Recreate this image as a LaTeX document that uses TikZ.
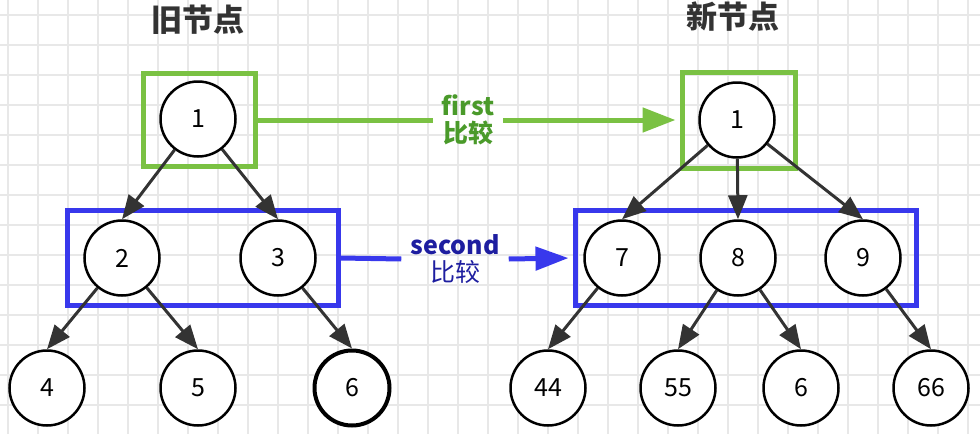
\documentclass[tikz,border=0pt]{standalone}
\usepackage{fontspec}
\setmainfont{Noto Sans CJK SC}
\usetikzlibrary{arrows.meta}
\definecolor{cmpgreen}{HTML}{7AC143}
\definecolor{txtgreen}{HTML}{4A9A2A}
\definecolor{cmpblue}{HTML}{3838EC}
\definecolor{txtblue}{HTML}{1E1EA0}
\definecolor{gridgray}{HTML}{E8E8E8}
\tikzset{
  tnode/.style={draw=black, shape=circle, fill=white, line width=2.5pt, minimum size=75pt, inner sep=0pt, font=\fontsize{25}{28}\selectfont},
  tedge/.style={draw=black!80, line width=3pt, -{Triangle[length=24pt,width=19pt]}},
  cmpbox/.style={draw=#1, line width=5pt, shape=rectangle, inner sep=0pt},
  cmpline/.style={draw=#1, line width=5pt},
  cmplabel/.style={text=#1, align=center, inner xsep=9pt, inner ysep=0pt, font=\fontsize{25}{27}\selectfont},
  treetitle/.style={text=black!80, font=\fontsize{31}{34}\selectfont\bfseries}
}
\begin{document}
\begin{tikzpicture}[x=1pt,y=-1pt]
\useasboundingbox (0,0) rectangle (980,434);
% background grid
\foreach \gx in {8,38,...,968} \draw[gridgray, line width=1.2pt] (\gx,0) -- (\gx,434);
\foreach \gy in {15,45,...,434} \draw[gridgray, line width=1.2pt] (0,\gy) -- (980,\gy);

\node[treetitle] (oldtitle) at (198,20) {旧节点};
\node[treetitle] (newtitle) at (733,17) {新节点};

% old tree
\node[tnode] (o1) at (198,119) {1};
\node[tnode] (o2) at (122,258) {2};
\node[tnode] (o3) at (278,258) {3};
\node[tnode] (o4) at (47,388) {4};
\node[tnode] (o5) at (198,388) {5};
\node[tnode, line width=4pt] (o6) at (352,388) {6};

% new tree
\node[tnode] (n1) at (737,120) {1};
\node[tnode] (n7) at (622,258) {7};
\node[tnode] (n8) at (738,258) {8};
\node[tnode] (n9) at (863,258) {9};
\node[tnode] (n44) at (548,388) {44};
\node[tnode] (n55) at (678,388) {55};
\node[tnode] (n6) at (801,388) {6};
\node[tnode] (n66) at (931,388) {66};

% compared levels
\node[cmpbox=cmpgreen, minimum width=112pt, minimum height=93pt] (og) at (199,120) {};
\node[cmpbox=cmpgreen, minimum width=113pt, minimum height=96pt] (ng) at (738.5,120) {};
\node[cmpbox=cmpblue, minimum width=271pt, minimum height=95pt] (ob) at (202.5,258) {};
\node[cmpbox=cmpblue, minimum width=341pt, minimum height=95pt] (nb) at (745.5,258) {};

\node[cmplabel=txtgreen] (fcmp) at (468,120) {\bfseries first\\\bfseries 比较};
\node[cmplabel=txtblue] (scmp) at (455,259) {\bfseries second\\比较};

\draw[cmpline=cmpgreen] (og.east) -- (fcmp.west);
\draw[cmpline=cmpgreen, -{Triangle[length=33pt,width=24pt]}, shorten >=4pt] (fcmp.east) -- (ng.west);
\draw[cmpline=cmpblue] (ob.east) -- (scmp.west);
\draw[cmpline=cmpblue, -{Triangle[length=33pt,width=23pt]}, shorten >=4pt] (scmp.east) -- (nb.west);

% edges
\draw[tedge] (o1) -- (o2.north);
\draw[tedge] (o1) -- (o3.north);
\draw[tedge] (o2) -- (o4.north);
\draw[tedge] (o2) -- (o5.north);
\draw[tedge] (o3) -- (o6.north);
\draw[tedge] (n1) -- (n7.north);
\draw[tedge] (n1) -- (n8.north);
\draw[tedge] (n1) -- (n9.north);
\draw[tedge] (n7) -- (n44.north);
\draw[tedge] (n8) -- (n55.north);
\draw[tedge] (n8) -- (n6.north);
\draw[tedge] (n9) -- (n66.north);
\end{tikzpicture}
\end{document}
